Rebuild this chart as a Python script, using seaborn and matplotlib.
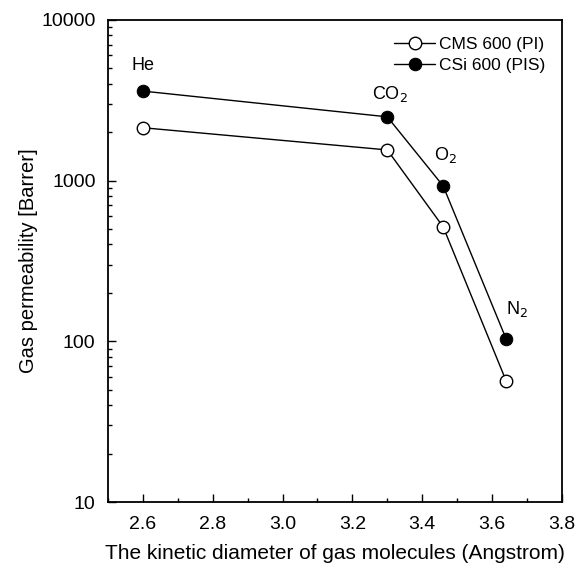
import pandas as pd
import numpy as np
import matplotlib.pyplot as plt
import seaborn as sns
from matplotlib.ticker import MultipleLocator, LogLocator, NullFormatter

gases = ['He', 'CO$_2$', 'O$_2$', 'N$_2$']
diameter = [2.6, 3.3, 3.46, 3.64]
cms_600 = [2130, 1550, 515, 57]
csi_600 = [3600, 2490, 925, 104]

sns.set_style('ticks')
plt.rcParams['font.family'] = ['Liberation Sans', 'DejaVu Sans']
plt.rcParams['text.color'] = 'black'
plt.rcParams['axes.labelcolor'] = 'black'
plt.rcParams['xtick.color'] = 'black'
plt.rcParams['ytick.color'] = 'black'
plt.rcParams['axes.edgecolor'] = 'black'

df = pd.DataFrame({'x': diameter * 2,
                   'y': cms_600 + csi_600,
                   'series': ['CMS 600 (PI)'] * 4 + ['CSi 600 (PIS)'] * 4})

fig = plt.figure(figsize=(5.78, 5.65), dpi=100)
ax = fig.add_axes([0.187, 0.1115, 0.785, 0.8535])

sns.lineplot(data=df[df.series == 'CMS 600 (PI)'], x='x', y='y', ax=ax, color='black',
             lw=1, marker='o', markersize=9, markerfacecolor='white', markeredgecolor='black',
             markeredgewidth=1, label='CMS 600 (PI)')
sns.lineplot(data=df[df.series == 'CSi 600 (PIS)'], x='x', y='y', ax=ax, color='black',
             lw=1, marker='o', markersize=9, markerfacecolor='black', markeredgecolor='black',
             label='CSi 600 (PIS)')

ax.set_yscale('log')
ax.set_xlim(2.5, 3.8)
ax.set_ylim(10, 10000)
ax.xaxis.set_major_locator(MultipleLocator(0.2))
ax.xaxis.set_minor_locator(MultipleLocator(0.1))
ax.xaxis.set_major_formatter(plt.FormatStrFormatter('%.1f'))
ax.yaxis.set_major_locator(LogLocator(base=10))
ax.yaxis.set_major_formatter(plt.FuncFormatter(lambda v, p: '%d' % v))
ax.yaxis.set_minor_locator(LogLocator(base=10, subs=np.arange(2, 10)))
ax.yaxis.set_minor_formatter(NullFormatter())
ax.tick_params(which='both', direction='in', labelsize=14, top=False, right=False)
ax.tick_params(which='major', length=6, width=1)
ax.tick_params(which='minor', length=3, width=1)
ax.tick_params(axis='x', pad=10)
ax.tick_params(axis='y', pad=9)
for s in ax.spines.values():
    s.set_linewidth(1.3)

# gas labels next to filled points
offsets = [(0, 12), (2, 9), (2, 15), (8, 14)]
for g, xv, yv, (dx, dy) in zip(gases, diameter, csi_600, offsets):
    ax.annotate(g, (xv, yv), xytext=(dx, dy), textcoords='offset points',
                ha='center', va='bottom', fontsize=13)

ax.set_xlabel('The kinetic diameter of gas molecules (Angstrom)', fontsize=15, labelpad=8)
ax.set_ylabel('Gas permeability [Barrer]', fontsize=14.5, labelpad=2)

ax.legend(loc='upper right', frameon=False, fontsize=12.5, handlelength=2.4,
          handletextpad=0.2, borderaxespad=0.3, labelspacing=0.35,
          bbox_to_anchor=(0.99, 0.99))

fig.savefig('out.png', dpi=100)
